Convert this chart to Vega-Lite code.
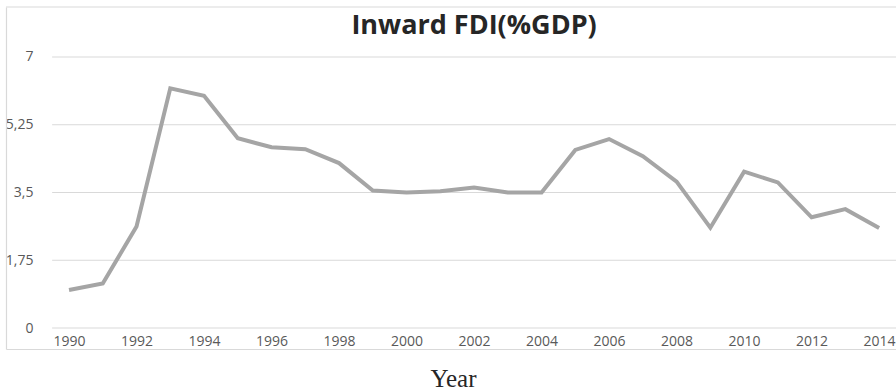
{
  "$schema": "https://vega.github.io/schema/vega-lite/v6.json",
  "width": 890,
  "height": 342,
  "autosize": {"type": "none"},
  "padding": {"left": 6, "top": 7, "right": 0, "bottom": 41},
  "background": "white",
  "config": {"view": {"stroke": null}},
  "datasets": {
    "fdi": [
      {"year": 1990, "fdi": 0.98},
      {"year": 1991, "fdi": 1.15},
      {"year": 1992, "fdi": 2.62},
      {"year": 1993, "fdi": 6.19},
      {"year": 1994, "fdi": 6.0},
      {"year": 1995, "fdi": 4.9},
      {"year": 1996, "fdi": 4.67},
      {"year": 1997, "fdi": 4.62},
      {"year": 1998, "fdi": 4.26},
      {"year": 1999, "fdi": 3.55},
      {"year": 2000, "fdi": 3.5},
      {"year": 2001, "fdi": 3.53},
      {"year": 2002, "fdi": 3.63},
      {"year": 2003, "fdi": 3.5},
      {"year": 2004, "fdi": 3.5},
      {"year": 2005, "fdi": 4.6},
      {"year": 2006, "fdi": 4.88},
      {"year": 2007, "fdi": 4.44},
      {"year": 2008, "fdi": 3.78},
      {"year": 2009, "fdi": 2.59},
      {"year": 2010, "fdi": 4.04},
      {"year": 2011, "fdi": 3.76},
      {"year": 2012, "fdi": 2.86},
      {"year": 2013, "fdi": 3.07},
      {"year": 2014, "fdi": 2.58}
    ],
    "grid": [{"v": 0}, {"v": 1.75}, {"v": 3.5}, {"v": 5.25}, {"v": 7}]
  },
  "layer": [
    {
      "data": {"name": "grid"},
      "mark": {"type": "rule", "color": "#d9d9d9", "strokeWidth": 1.2},
      "encoding": {
        "y": {
          "field": "v",
          "type": "quantitative",
          "scale": {"domain": [-0.5424, 8.2915], "nice": false, "zero": false},
          "axis": {
            "values": [0, 1.75, 3.5, 5.25, 7],
            "labelExpr": "replace(toString(datum.value), '.', ',')",
            "domain": true,
            "domainColor": "#d9d9d9",
            "domainWidth": 1.2,
            "ticks": false,
            "tickSize": 0,
            "grid": false,
            "labelPadding": -27,
            "labelAlign": "right",
            "labelBaseline": "middle",
            "labelFont": "Open Sans",
            "labelFontSize": 14,
            "labelColor": "#595959",
            "labelOverlap": false,
            "title": null
          }
        },
        "x": {"datum": 1989.5, "type": "quantitative"},
        "x2": {"datum": 2014.5}
      }
    },
    {
      "data": {"values": [{"edge": 8.2915}]},
      "mark": {"type": "rule", "color": "#d9d9d9", "strokeWidth": 1.2},
      "encoding": {
        "y": {"field": "edge", "type": "quantitative"},
        "x": {"datum": 1988.1333, "type": "quantitative"},
        "x2": {"datum": 2014.5}
      }
    },
    {
      "data": {"values": [{"label": "Inward FDI(%GDP)", "year": 2002, "level": 7.594}]},
      "mark": {
        "type": "text",
        "font": "Open Sans",
        "fontSize": 27,
        "fontWeight": "bold",
        "color": "#262626",
        "align": "center",
        "baseline": "alphabetic"
      },
      "encoding": {
        "text": {"field": "label"},
        "x": {"field": "year", "type": "quantitative"},
        "y": {"field": "level", "type": "quantitative"}
      }
    },
    {
      "data": {"name": "fdi"},
      "mark": {"type": "line", "color": "#a5a5a5", "strokeWidth": 4, "strokeJoin": "miter"},
      "encoding": {
        "x": {
          "field": "year",
          "type": "quantitative",
          "scale": {"domain": [1988.1333, 2014.5], "nice": false, "zero": false},
          "axis": {
            "values": [1990, 1992, 1994, 1996, 1998, 2000, 2002, 2004, 2006, 2008, 2010, 2012, 2014],
            "format": "d",
            "domain": true,
            "domainColor": "#d9d9d9",
            "domainWidth": 1.2,
            "ticks": false,
            "tickSize": 0,
            "grid": false,
            "labelPadding": -8,
            "labelBaseline": "middle",
            "labelFont": "Open Sans",
            "labelFontSize": 14,
            "labelColor": "#595959",
            "labelFlush": false,
            "labelOverlap": false,
            "title": "Year",
            "titleFont": "Liberation Serif",
            "titleFontSize": 25,
            "titleFontWeight": "normal",
            "titleColor": "#262626",
            "titleX": 447,
            "titleY": 37,
            "titleAlign": "center",
            "titleBaseline": "alphabetic"
          }
        },
        "y": {"field": "fdi", "type": "quantitative"}
      }
    }
  ]
}
